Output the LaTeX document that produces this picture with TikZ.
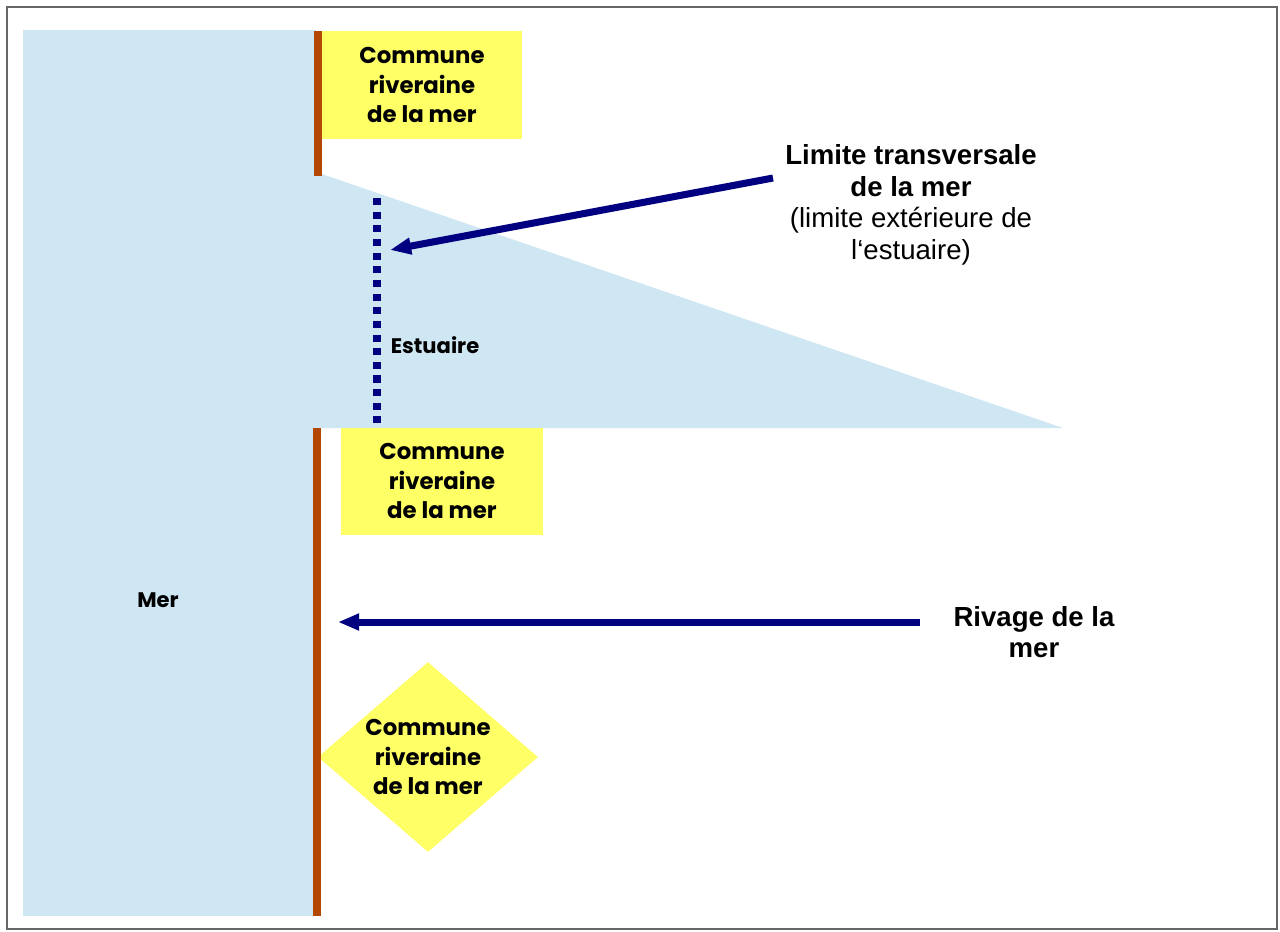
\documentclass[tikz,border=0pt]{standalone}
\usepackage{fontspec}
\setmainfont{Liberation Sans}
\newfontfamily\gothic{Poppins}
\usetikzlibrary{
    arrows.meta,
    positioning,
    shapes.geometric
}
\definecolor{seablue}{RGB}{207,230,243}
\definecolor{landyellow}{RGB}{255,255,102}
\definecolor{shorebrown}{RGB}{180,71,0}
\definecolor{arrowblue}{RGB}{0,0,128}
\tikzset{
    every picture/.style = {
        > = {Triangle[length = 12pt, width = 9pt]}
    },
    commune/.style = {
        fill = landyellow,
        align = center,
        inner sep = 0pt,
        font = \gothic\bfseries\fontsize{13}{17}\selectfont
    },
    sealabel/.style = {
        font = \gothic\bfseries\fontsize{12}{14}\selectfont
    },
    legend/.style = {
        align = center,
        font = \fontsize{15.7}{18}\selectfont
    },
    shore/.style = {
        draw = shorebrown,
        line width = 4pt
    },
    pointer/.style = {
        ->,
        draw = arrowblue,
        line width = 4pt
    }
}

\begin{document}
\begin{tikzpicture}[x = 0.02cm, y = -0.02cm]
    \useasboundingbox (0,0) rectangle (1280,931);
    \draw[gray!80!black, line width = 0.8pt] (7,7) rectangle (1277,929);

    % sea and estuary
    \fill[seablue] (23,30) rectangle (316,916);
    \fill[seablue] (316,172) -- (1063,428) -- (316,428) -- cycle;
    \node[sealabel] (mer) at (158,600) {Mer};
    \node[sealabel] (estuaire) at (435,345) {Estuaire};

    % communes
    \node[commune, minimum width = 4.02cm, minimum height = 2.16cm] (c0) at (422,85) {Commune\\riveraine\\de la mer};
    \node[commune, minimum width = 4.06cm, minimum height = 2.14cm] (c1) at (442,481) {Commune\\riveraine\\de la mer};
    \node[commune, diamond, aspect = 1.16, minimum width = 4.4cm, minimum height = 3.8cm] (c2) at (428,757) {Commune\\riveraine\\de la mer};

    % shore
    \draw[shore] (318,31) -- (318,176);
    \draw[shore] (317,428) -- (317,916);
    \draw[arrowblue, line width = 4pt, dash pattern = on 4pt off 3.77pt] (377,198) -- (377,425);

    % labels
    \node[legend] (limite) at (911,205) {\textbf{Limite transversale}\\\textbf{de la mer}\\(limite extérieure de\\l‘estuaire)};
    \node[legend, font = \bfseries\fontsize{15.7}{18}\selectfont] (rivage) at (1034,632) {Rivage de la\\mer};
    \coordinate (limtail) at (773,178);
    \coordinate (limhead) at (390,250);
    \coordinate (rivtail) at (920,622);
    \coordinate (rivhead) at (338,622);
    \draw[pointer] (limtail) -- (limhead);
    \draw[pointer] (rivtail) -- (rivhead);
\end{tikzpicture}
\end{document}
